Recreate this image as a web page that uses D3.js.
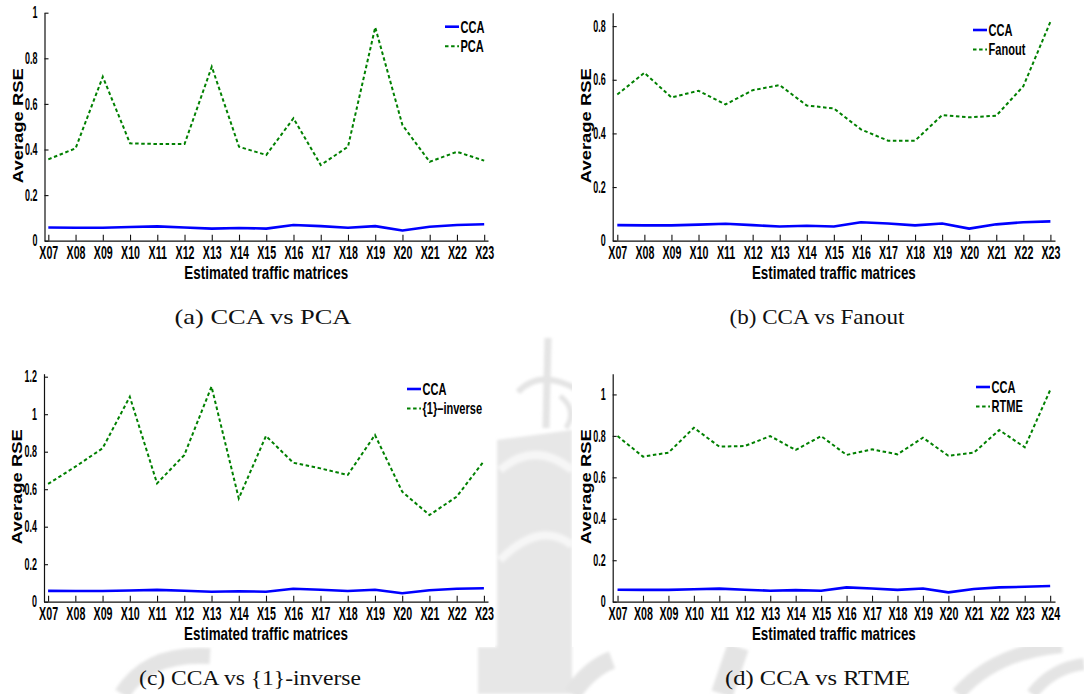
<!DOCTYPE html>
<html>
<head>
<meta charset="utf-8">
<script src="https://cdn.jsdelivr.net/npm/d3@7"></script>
<style>
  html, body { margin: 0; padding: 0; background: #fff; }
  svg { display: block; }
</style>
</head>
<body>
<svg id="fig" width="1084" height="694"></svg>
<script>
// Traffic matrices estimated in each experiment
const categories = ["X07","X08","X09","X10","X11","X12","X13","X14","X15","X16","X17","X18","X19","X20","X21","X22","X23"];
const categoriesRtme = ["X07","X08","X09","X10","X11","X12","X13","X14","X15","X16","X17","X18","X19","X20","X21","X22","X23","X24"];

// Average RSE per method
const ccaValues = [0.058,0.057,0.057,0.060,0.063,0.058,0.053,0.056,0.053,0.069,0.064,0.057,0.064,0.045,0.061,0.069,0.072];
const ccaValuesRtme = [0.058,0.057,0.057,0.060,0.063,0.058,0.053,0.056,0.053,0.069,0.064,0.057,0.064,0.045,0.061,0.069,0.072,0.076];
const pcaValues = [0.357,0.405,0.719,0.427,0.424,0.424,0.763,0.412,0.376,0.537,0.332,0.412,0.936,0.507,0.346,0.390,0.351];
const fanoutValues = [0.545,0.626,0.534,0.559,0.508,0.561,0.580,0.504,0.493,0.415,0.373,0.373,0.468,0.460,0.466,0.576,0.816];
const inverseValues = [0.628,0.720,0.818,1.093,0.631,0.782,1.147,0.551,0.884,0.741,0.711,0.676,0.889,0.587,0.462,0.560,0.750];
const rtmeValues = [0.799,0.700,0.719,0.839,0.748,0.751,0.799,0.732,0.799,0.708,0.735,0.711,0.791,0.704,0.719,0.828,0.745,1.021];

// Y-axis tick values per panel
const yTicksPca = [0, 0.2, 0.4, 0.6, 0.8, 1];
const yTicksFanout = [0, 0.2, 0.4, 0.6, 0.8];
const yTicksInverse = [0, 0.2, 0.4, 0.6, 0.8, 1, 1.2];
const yTicksRtme = [0, 0.2, 0.4, 0.6, 0.8, 1];

// Text
const seriesNames = ["CCA", "PCA", "Fanout", "{1}\u2013inverse", "RTME"];
const captions = ["(a)  CCA vs PCA", "(b)  CCA vs Fanout", "(c)  CCA vs {1}-inverse", "(d)  CCA vs RTME"];
const xTitle = "Estimated traffic matrices";
const yTitle = "Average RSE";

const panels = [
  { cats: categories, base: ccaValues, other: pcaValues, name: seriesNames[1], yMax: 1.0, yTicks: yTicksPca,
    caption: captions[0], box: {left: 44.5, right: 488, top: 12.7, bottom: 240.7}, pad: 0.14,
    legend: {x: 445, y: 26.7}, cap: {x: 263, y: 324, len: 177} },
  { cats: categories, base: ccaValues, other: fanoutValues, name: seriesNames[2], yMax: 0.85, yTicks: yTicksFanout,
    caption: captions[1], box: {left: 612.7, right: 1055, top: 12.7, bottom: 240.7}, pad: 0.17,
    legend: {x: 973, y: 30}, cap: {x: 817, y: 324, len: 175} },
  { cats: categories, base: ccaValues, other: inverseValues, name: seriesNames[3], yMax: 1.216, yTicks: yTicksInverse,
    caption: captions[2], box: {left: 44, right: 488, top: 373.7, bottom: 601.7}, pad: 0.15,
    legend: {x: 407, y: 389}, cap: {x: 250, y: 685, len: 222} },
  { cats: categoriesRtme, base: ccaValuesRtme, other: rtmeValues, name: seriesNames[4], yMax: 1.1, yTicks: yTicksRtme,
    caption: captions[3], box: {left: 612.7, right: 1055, top: 373.7, bottom: 601.7}, pad: 0.19,
    legend: {x: 976, y: 387}, cap: {x: 817.5, y: 685, len: 185} }
];

const svg = d3.select("#fig");
const SANS = "'Liberation Sans', Arial, Helvetica, sans-serif";
const SERIF = "'Liberation Serif', 'Times New Roman', serif";

// Place a text at (tx, ty) and squeeze/stretch it horizontally by a ratio
function squeeze(node, tx, ty, ratio) {
  node.setAttribute("x", 0);
  node.setAttribute("transform", `translate(${tx},${ty}) scale(${ratio},1)`);
}
// Same, but to an exact target width
function fitWidth(node, tx, ty, width) {
  node.setAttribute("x", 0);
  const w = node.getComputedTextLength();
  node.setAttribute("transform", `translate(${tx},${ty}) scale(${width / w},1)`);
}

// Faint emblem showing through behind the lower panels
const defs = svg.append("defs");
defs.append("filter").attr("id", "soft").append("feGaussianBlur").attr("stdDeviation", 1.6);
const wm = svg.append("g").attr("filter", "url(#soft)").attr("fill", "none").attr("stroke", "#e4e4e4");
wm.append("path").attr("d", "M497,440 L572,430 L572,694 L478,694 L478,647 L497,647 Z").attr("fill", "#e7e7e7").attr("stroke", "none");
wm.append("path").attr("d", "M500,470 Q535,440 572,470").attr("stroke", "#f6f6f6").attr("stroke-width", 8);
wm.append("path").attr("d", "M500,560 Q540,520 572,545").attr("stroke", "#f6f6f6").attr("stroke-width", 8);
wm.append("path").attr("d", "M548,338 L546,428").attr("stroke-width", 7);
wm.append("path").attr("d", "M518,392 Q540,368 578,390").attr("stroke-width", 6);
wm.append("path").attr("d", "M560,396 Q578,410 566,428").attr("stroke-width", 5);
wm.append("path").attr("d", "M572,694 Q590,668 612,660").attr("stroke-width", 18);
wm.append("path").attr("d", "M122,694 Q148,652 210,656").attr("stroke-width", 16);
wm.append("path").attr("d", "M738,647 L722,694").attr("stroke-width", 22);
wm.append("path").attr("d", "M958,694 Q995,652 1062,646").attr("stroke-width", 14);
wm.append("path").attr("d", "M1032,694 Q1052,668 1084,664").attr("stroke-width", 12);

// White panel backgrounds for the lower row
svg.append("rect").attr("x", 0).attr("y", 340).attr("width", 495).attr("height", 307).attr("fill", "#fff");
svg.append("rect").attr("x", 572).attr("y", 340).attr("width", 512).attr("height", 307).attr("fill", "#fff");

function drawPanel(p) {
  const g = svg.append("g");
  const x = d3.scalePoint().domain(p.cats).range([p.box.left, p.box.right]).padding(p.pad);
  const y = d3.scaleLinear().domain([0, p.yMax]).range([p.box.bottom, p.box.top]);

  // X axis, ticks pointing into the plot
  const gx = g.append("g")
    .attr("transform", `translate(0,${p.box.bottom})`)
    .call(d3.axisBottom(x).tickSizeInner(-6).tickSizeOuter(0).tickPadding(5.5));
  // Y axis
  const gy = g.append("g")
    .attr("transform", `translate(${p.box.left},0)`)
    .call(d3.axisLeft(y).tickValues(p.yTicks).tickFormat(d => String(d)).tickSizeInner(-4).tickSizeOuter(0).tickPadding(7));

  [gx, gy].forEach(ax => {
    ax.select(".domain").attr("stroke", "#111").attr("stroke-width", 1.2);
    ax.selectAll(".tick line").attr("stroke", "#111").attr("stroke-width", 1.1);
    ax.selectAll("text").attr("font-family", SANS).attr("font-weight", "bold").attr("fill", "#000");
  });
  gx.selectAll("text").attr("font-size", 17.5).each(function () {
    const ty = +this.getAttribute("y");
    this.removeAttribute("y");
    squeeze(this, 0, ty, 0.61);
  });
  gy.selectAll("text").attr("font-size", 16).each(function () {
    squeeze(this, -7, 0, 0.56);
  });

  // Series lines
  const line = d3.line().x((d, i) => x(p.cats[i])).y(d => y(d));
  g.append("path").datum(p.other).attr("d", line)
    .attr("fill", "none").attr("stroke", "#008000").attr("stroke-width", 2)
    .attr("stroke-dasharray", "3.5,2.6");
  g.append("path").datum(p.base).attr("d", line)
    .attr("fill", "none").attr("stroke", "#0000ff").attr("stroke-width", 2.6)
    .attr("stroke-linejoin", "round");

  // Axis titles
  const xt = g.append("text")
    .attr("text-anchor", "middle").attr("font-family", SANS).attr("font-weight", "bold")
    .attr("font-size", 17.5).text(xTitle);
  fitWidth(xt.node(), (p.box.left + p.box.right) / 2, p.box.bottom + 38.5, 164);

  const cy = (p.box.top + p.box.bottom) / 2 - 1;
  const yt = g.append("text")
    .attr("text-anchor", "middle").attr("dy", "0.36em")
    .attr("font-family", SANS).attr("font-weight", "bold").attr("font-size", 15.5).text(yTitle);
  const natural = yt.node().getComputedTextLength();
  yt.attr("transform", `translate(${p.box.left - 27.5},${cy}) rotate(-90) scale(${115 / natural},1)`);

  // Legend
  const lg = g.append("g").attr("transform", `translate(${p.legend.x},${p.legend.y})`);
  const items = [
    { label: seriesNames[0], color: "#0000ff", dash: null, w: 2.6 },
    { label: p.name, color: "#008000", dash: "3.5,2.6", w: 2 }
  ];
  items.forEach((it, i) => {
    const row = lg.append("g").attr("transform", `translate(0,${i * 19.5})`);
    row.append("line").attr("x1", 0).attr("x2", 14).attr("y1", 0).attr("y2", 0)
      .attr("stroke", it.color).attr("stroke-width", it.w).attr("stroke-dasharray", it.dash);
    const t = row.append("text").attr("dy", "0.36em")
      .attr("font-family", SANS).attr("font-weight", "bold").attr("font-size", 16.5).text(it.label);
    squeeze(t.node(), 15.5, 0, 0.67);
  });

  // Sub-figure caption
  const cp = svg.append("text")
    .attr("text-anchor", "middle").attr("font-family", SERIF).attr("font-size", 21)
    .attr("fill", "#111").text(p.caption);
  fitWidth(cp.node(), p.cap.x, p.cap.y, p.cap.len);
}

panels.forEach(drawPanel);
</script>
</body>
</html>
